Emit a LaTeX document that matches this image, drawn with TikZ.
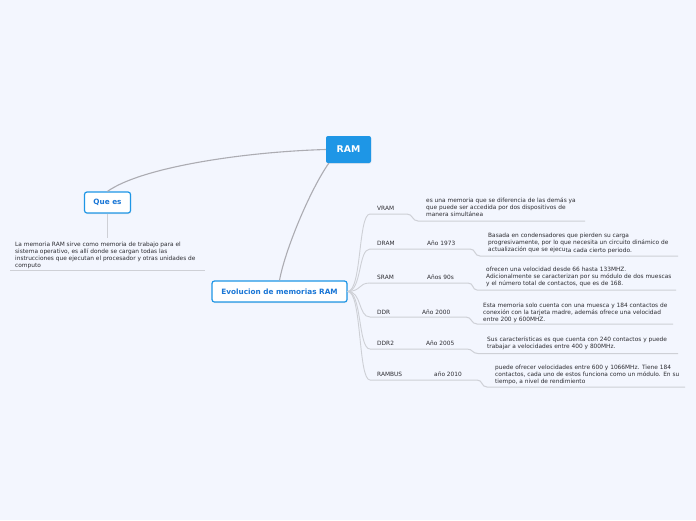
\documentclass[tikz,border=0pt]{standalone}
\usepackage{fontspec}
\setmainfont{DejaVu Sans}
\usetikzlibrary{shadows}

\definecolor{bgPaper}{RGB}{243,246,254}
\definecolor{ramBlue}{RGB}{30,150,230}
\definecolor{topicBlue}{RGB}{25,118,214}
\definecolor{mainLine}{RGB}{172,172,178}
\definecolor{subLine}{RGB}{206,208,214}
\definecolor{noteText}{RGB}{45,45,50}

\tikzset{
  ramroot/.style={fill=ramBlue, text=white, rounded corners=2pt, inner sep=0pt,
    minimum width=45pt, minimum height=27pt, font=\fontsize{9.3}{10}\selectfont\bfseries,
    drop shadow={opacity=0.12, shadow xshift=0.4pt, shadow yshift=-0.8pt}},
  topicbox/.style={fill=white, draw=ramBlue, line width=1.2pt, rounded corners=2.5pt,
    text=topicBlue, inner sep=0pt, minimum height=21pt, font=\fontsize{7.3}{8}\selectfont\bfseries,
    drop shadow={opacity=0.15, shadow xshift=0.5pt, shadow yshift=-1pt}},
  notetext/.style={font=\fontsize{5.85}{7}\selectfont, text=noteText, align=left,
    inner sep=0pt, anchor=north west},
  branchlabel/.style={font=\fontsize{5.85}{7}\selectfont, text=noteText, inner sep=0pt, anchor=west},
  mainlink/.style={draw=mainLine, line width=1.1pt},
  fanlink/.style={draw=subLine, line width=0.9pt},
  underline/.style={draw=subLine, line width=1pt},
}

\begin{document}
\begin{tikzpicture}[x=1pt, y=-1pt]
  % 0. paper
  \useasboundingbox[fill=bgPaper] (0,0) rectangle (696,520);

  % 1. central topic and main topics
  \node[ramroot] (ram) at (348.5,149.5) {RAM};
  \node[topicbox, minimum width=46pt] (quees) at (107.5,202.5) {Que es};
  \node[topicbox, minimum width=135pt] (evo) at (279.5,291.5) {Evolucion de memorias RAM};

  \draw[mainlink] (ram.west) .. controls (240,152) and (140,168) .. (quees.north);
  \draw[mainlink] ([xshift=3pt]ram.south west) .. controls (310,190) and (285,250) .. (evo.north);

  % 2. Que es -> note
  \coordinate (queesEnd) at (107.5,238);
  \coordinate (queesL) at (10,270);
  \coordinate (queesR) at (205,270);
  \draw[fanlink] (quees.south) -- (queesEnd);
  \node[notetext] (queesnote) at (15,241.5)
    {La memoria RAM sirve como memoria de trabajo para el\\sistema operativo, es allí donde se cargan todas las\\instrucciones que ejecutan el procesador y otras unidades de\\computo};
  \draw[underline] (queesL) -- (queesR);

  % 3. VRAM
  \coordinate (vramA) at (370,214);
  \coordinate (vramB) at (407,214);
  \coordinate (vramC) at (418,221);
  \coordinate (vramD) at (585,221);
  \node[branchlabel] (vram) at (377,208) {VRAM};
  \node[notetext] (vramnote) at (426,198)
    {es una memoria que se diferencia de las demás ya\\que puede ser accedida por dos dispositivos de\\manera simultánea};
  \draw[fanlink] (evo.east) .. controls (362,291) and (358,214) .. (vramA);
  \draw[underline] (vramA) -- (vramB) .. controls (413,214) and (412,221) .. (vramC) -- (vramD);

  % 4. DRAM
  \coordinate (dramA) at (370,249);
  \coordinate (dramB) at (470,249);
  \coordinate (dramC) at (480,256);
  \coordinate (dramD) at (678,256);
  \node[branchlabel] (dram) at (377,243) {DRAM};
  \node[branchlabel] (dramyear) at (427,243) {Año 1973};
  \node[notetext] (dramnote) at (488,233)
    {Basada en condensadores que pierden su carga\\progresivamente, por lo que necesita un circuito dinámico de\\actualización que se ejecu\raisebox{-1.3pt}{ta cada cierto periodo.}};
  \draw[fanlink] (evo.east) .. controls (362,291) and (358,249) .. (dramA);
  \draw[underline] (dramA) -- (dramB) .. controls (476,249) and (474,256) .. (dramC) -- (dramD);

  % 5. SRAM
  \coordinate (sramA) at (370,283);
  \coordinate (sramB) at (468,283);
  \coordinate (sramC) at (477,290);
  \coordinate (sramD) at (676,290);
  \node[branchlabel] (sram) at (377,277) {SRAM};
  \node[branchlabel] (sramyear) at (427,277) {Años 90s};
  \node[notetext] (sramnote) at (486,266.5)
    {ofrecen una velocidad desde 66 hasta 133MHZ.\\Adicionalmente se caracterizan por su módulo de dos muescas\\y el número total de contactos, que es de 168.};
  \draw[fanlink] (evo.east) .. controls (362,291) and (358,283) .. (sramA);
  \draw[underline] (sramA) -- (sramB) .. controls (474,283) and (472,290) .. (sramC) -- (sramD);

  % 6. DDR
  \coordinate (ddrA) at (370,317);
  \coordinate (ddrB) at (466,317);
  \coordinate (ddrC) at (477,324);
  \coordinate (ddrD) at (673,324);
  \node[branchlabel] (ddr) at (377,312) {DDR};
  \node[branchlabel] (ddryear) at (422,312) {Año 2000};
  \node[notetext] (ddrnote) at (483,302.5)
    {Esta memoria solo cuenta con una muesca y 184 contactos de\\conexión con la tarjeta madre, además ofrece una velocidad\\entre 200 y 600MHZ.};
  \draw[fanlink] (evo.east) .. controls (362,291) and (358,317) .. (ddrA);
  \draw[underline] (ddrA) -- (ddrB) .. controls (472,317) and (471,324) .. (ddrC) -- (ddrD);

  % 7. DDR2
  \coordinate (ddrtwoA) at (370,349);
  \coordinate (ddrtwoB) at (467,349);
  \coordinate (ddrtwoC) at (478,353.5);
  \coordinate (ddrtwoD) at (678,353.5);
  \node[branchlabel] (ddrtwo) at (377,343) {DDR2};
  \node[branchlabel] (ddrtwoyear) at (426,343) {Año 2005};
  \node[notetext] (ddrtwonote) at (487,336.5)
    {Sus características es que cuenta con 240 contactos y puede\\trabajar a velocidades entre 400 y 800MHz.};
  \draw[fanlink] (evo.east) .. controls (362,291) and (358,349) .. (ddrtwoA);
  \draw[underline] (ddrtwoA) -- (ddrtwoB) .. controls (473,349) and (472,353.5) .. (ddrtwoC) -- (ddrtwoD);

  % 8. RAMBUS
  \coordinate (rambusA) at (370,380);
  \coordinate (rambusB) at (477,380);
  \coordinate (rambusC) at (487,387);
  \coordinate (rambusD) at (685,387);
  \node[branchlabel] (rambus) at (377,374) {RAMBUS};
  \node[branchlabel] (rambusyear) at (434,374) {año 2010};
  \node[notetext] (rambusnote) at (495,364.5)
    {puede ofrecer velocidades entre 600 y 1066MHz. Tiene 184\\contactos, cada uno de estos funciona como un módulo. En su\\tiempo, a nivel de rendimiento};
  \draw[fanlink] (evo.east) .. controls (362,291) and (358,380) .. (rambusA);
  \draw[underline] (rambusA) -- (rambusB) .. controls (483,380) and (481,387) .. (rambusC) -- (rambusD);
\end{tikzpicture}
\end{document}
